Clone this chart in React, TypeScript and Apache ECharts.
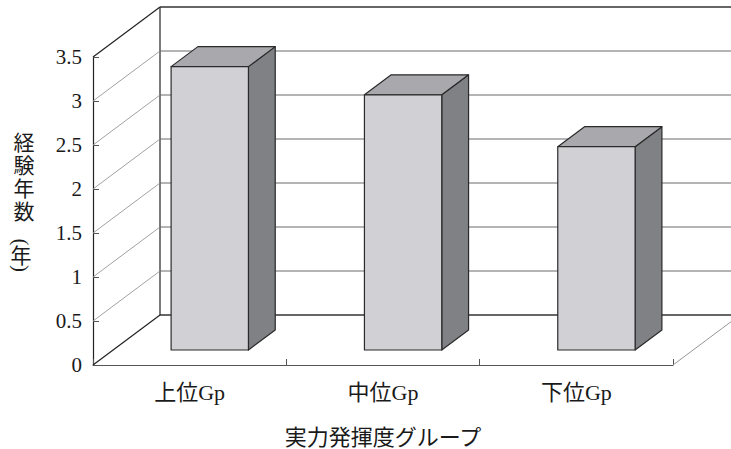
import React, { useEffect, useRef } from "react";
import * as echarts from "echarts";

const categories = ["上位Gp", "中位Gp", "下位Gp"];
const values = [3.22, 2.9, 2.31];
const yTicks = [0, 0.5, 1, 1.5, 2, 2.5, 3, 3.5];

const DX = 67;
const DY = -50;
const FONT = "'Liberation Serif', 'Noto Sans CJK JP', serif";

export default function App() {
  const ref = useRef<HTMLDivElement>(null);
  useEffect(() => {
    if (!ref.current) return;
    const chart = echarts.init(ref.current, undefined, { renderer: "svg" });
    const yMax = yTicks[yTicks.length - 1];
    const titleStyle = { fontSize: 21, lineHeight: 21, fill: "#1a1a1a", fontFamily: FONT, align: "center", verticalAlign: "middle" };
    chart.setOption({
      animation: false,
      backgroundColor: "#ffffff",
      grid: { left: 93, right: 58, top: 57, bottom: 84, outerBoundsMode: "none", containLabel: false },
      xAxis: {
        type: "category",
        data: categories,
        boundaryGap: true,
        name: "実力発揮度グループ",
        nameLocation: "middle",
        nameGap: 61,
        nameTextStyle: { fontSize: 22, color: "#1a1a1a", fontFamily: FONT },
        axisLine: { show: true, lineStyle: { color: "#555", width: 1 } },
        axisTick: { show: true, inside: true, length: 6, lineStyle: { color: "#555" } },
        axisLabel: { fontSize: 22, color: "#1a1a1a", margin: 16, fontFamily: FONT },
        splitLine: { show: false },
      },
      yAxis: {
        type: "value",
        min: 0,
        max: yMax,
        interval: 0.5,
        axisLine: { show: true, lineStyle: { color: "#222", width: 1.2 } },
        axisTick: { show: true, inside: true, length: 6, lineStyle: { color: "#555" } },
        splitLine: { show: false },
        axisLabel: { fontSize: 21, color: "#1a1a1a", margin: 11, fontFamily: FONT },
      },
      graphic: [
        { type: "text", x: 24, y: 143, style: { ...titleStyle, text: "経" } },
        { type: "text", x: 24, y: 166, style: { ...titleStyle, text: "験" } },
        { type: "text", x: 24, y: 189, style: { ...titleStyle, text: "年" } },
        { type: "text", x: 24, y: 212, style: { ...titleStyle, text: "数" } },
        { type: "text", x: 21, y: 242, rotation: -Math.PI / 2, style: { ...titleStyle, text: "(" } },
        { type: "text", x: 21, y: 255.5, style: { ...titleStyle, text: "年" } },
        { type: "text", x: 21, y: 268.5, rotation: -Math.PI / 2, style: { ...titleStyle, text: ")" } },
      ],
      series: [
        {
          type: "custom",
          z: 1,
          clip: false,
          data: yTicks.map((v) => [0, v]),
          encode: { x: 0, y: 1 },
          renderItem: (params: any, api: any) => {
            const v = api.value(1);
            const cs = params.coordSys;
            const x0 = cs.x;
            const y = api.coord([0, v])[1];
            const edge = v === 0 || v === yMax;
            const children: any[] = [
              {
                type: "line",
                shape: { x1: x0, y1: y, x2: x0 + DX, y2: y + DY },
                style: { stroke: edge ? "#222" : "#8a8a8a", lineWidth: edge ? 1.2 : 0.8 },
              },
              {
                type: "line",
                shape: { x1: x0 + DX, y1: y + DY, x2: x0 + cs.width + DX + 20, y2: y + DY },
                style: { stroke: edge ? "#333" : "#6a6a6a", lineWidth: edge ? 1.3 : 1 },
              },
            ];
            if (v === 0) {
              const yTop = api.coord([0, yMax])[1];
              children.push({
                type: "line",
                shape: { x1: x0 + DX, y1: y + DY, x2: x0 + DX, y2: yTop + DY },
                style: { stroke: "#222", lineWidth: 1.2 },
              });
              children.push({
                type: "line",
                shape: { x1: x0 + cs.width, y1: y, x2: x0 + cs.width + DX, y2: y + DY },
                style: { stroke: "#8a8a8a", lineWidth: 0.9 },
              });
            }
            return { type: "group", children };
          },
        },
        {
          type: "custom",
          z: 2,
          clip: false,
          data: values.map((v, i) => [i, v]),
          encode: { x: 0, y: 1 },
          renderItem: (params: any, api: any) => {
            const i = api.value(0);
            const v = api.value(1);
            const top = api.coord([i, v]);
            const base = api.coord([i, 0]);
            const catW = api.size([1, 0])[0];
            const w = catW * 0.4;
            const ox = 0.3 * DX;
            const oy = 0.3 * DY;
            const ddx = 0.4 * DX;
            const ddy = 0.4 * DY;
            const xL = top[0] - w / 2 + ox;
            const xR = xL + w;
            const yT = top[1] + oy;
            const yB = base[1] + oy;
            const stroke = { stroke: "#2a2a2a", lineWidth: 1.2, lineJoin: "round" };
            return {
              type: "group",
              children: [
                {
                  type: "polygon",
                  shape: { points: [[xR, yT], [xR + ddx, yT + ddy], [xR + ddx, yB + ddy], [xR, yB]] },
                  style: { fill: "#7f8184", ...stroke },
                },
                {
                  type: "polygon",
                  shape: { points: [[xL, yT], [xR, yT], [xR + ddx, yT + ddy], [xL + ddx, yT + ddy]] },
                  style: { fill: "#a9a9ad", ...stroke },
                },
                {
                  type: "rect",
                  shape: { x: xL, y: yT, width: w, height: yB - yT },
                  style: { fill: "#d1d1d5", ...stroke },
                },
              ],
            };
          },
        },
      ],
    });
    return () => chart.dispose();
  }, []);
  return (
    <div
      ref={ref}
      style={{ position: "fixed", left: 0, top: 0, width: 731, height: 449, background: "#fff" }}
    />
  );
}
